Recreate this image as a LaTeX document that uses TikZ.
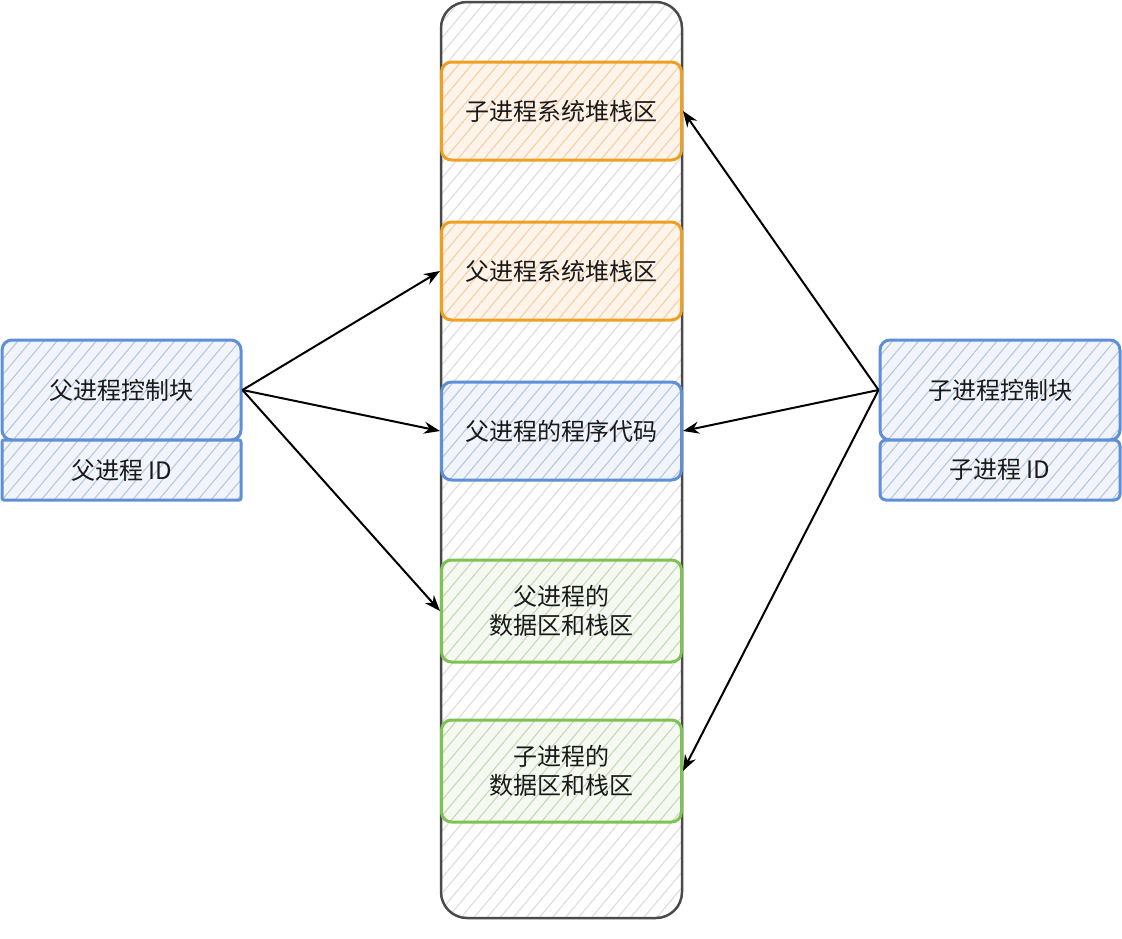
\documentclass[tikz,border=0pt]{standalone}
\usepackage{fontspec}
\setmainfont{Noto Sans CJK SC}
\usetikzlibrary{patterns.meta,arrows.meta}
\definecolor{colstroke}{HTML}{4A4A4A}
\definecolor{colhatch}{HTML}{DCDCDC}
\definecolor{orstroke}{HTML}{F0A020}
\definecolor{orfill}{HTML}{FEF4EA}
\definecolor{orhatch}{HTML}{F6CFA8}
\definecolor{blstroke}{HTML}{5F8FD6}
\definecolor{blfill}{HTML}{F1F4FA}
\definecolor{blhatch}{HTML}{B8C8E0}
\definecolor{grstroke}{HTML}{7DC253}
\definecolor{grfill}{HTML}{F5F9F2}
\definecolor{grhatch}{HTML}{C4DAB6}
\definecolor{txt}{HTML}{1A1A1A}
\tikzset{
  hatchbox/.style n args={3}{draw=#1, line width=3pt, rounded corners=10pt,
    preaction={fill=#2},
    pattern={Lines[angle=50,distance=10pt,line width=1.1pt]}, pattern color=#3,
    text=txt, font=\fontsize{24}{29}\selectfont, align=center,
    minimum width=240pt, inner sep=0pt},
  orbox/.style={hatchbox={orstroke}{orfill}{orhatch}, minimum height=98pt},
  blbox/.style={hatchbox={blstroke}{blfill}{blhatch}},
  grbox/.style={hatchbox={grstroke}{grfill}{grhatch}, minimum height=102pt},
  arr/.style={draw=black, line width=2pt, -{Stealth[length=16pt,width=12pt]}},
}
\begin{document}
\begin{tikzpicture}[x=1pt,y=-1pt]
\useasboundingbox (0,0) rectangle (1122,938);
% column
\node[draw=colstroke, line width=2.5pt, rounded corners=26pt, preaction={fill=white},
  pattern={Lines[angle=50,distance=10pt,line width=1.1pt]}, pattern color=colhatch,
  minimum width=241pt, minimum height=916pt, inner sep=0pt] (col) at (561.5,460) {};
% memory boxes
\node[orbox] (o1) at (561.5,111) {子进程系统堆栈区};
\node[orbox] (o2) at (561.5,271) {父进程系统堆栈区};
\node[blbox, minimum height=98pt] (b1) at (561.5,431) {父进程的程序代码};
\node[grbox] (g1) at (561.5,611) {父进程的\\数据区和栈区};
\node[grbox] (g2) at (561.5,771) {子进程的\\数据区和栈区};
% left blocks
\node[blbox, minimum width=239pt, minimum height=100pt] (pcb) at (121.5,390) {父进程控制块};
\node[blbox, minimum width=239pt, minimum height=60pt, rounded corners=2pt] (pid) at (121.5,470) {父进程 ID};
% right blocks
\node[blbox, minimum width=240pt, minimum height=100pt] (ccb) at (1000,390) {子进程控制块};
\node[blbox, minimum width=240pt, minimum height=60pt, rounded corners=6pt] (cid) at (1000,470) {子进程 ID};
% arrows
\draw[arr] (pcb.east) -- (o2.west);
\draw[arr] (pcb.east) -- (b1.west);
\draw[arr] (pcb.east) -- (g1.west);
\draw[arr] (ccb.west) -- (o1.east);
\draw[arr] (ccb.west) -- (b1.east);
\draw[arr] (ccb.west) -- (g2.east);
\end{tikzpicture}
\end{document}
